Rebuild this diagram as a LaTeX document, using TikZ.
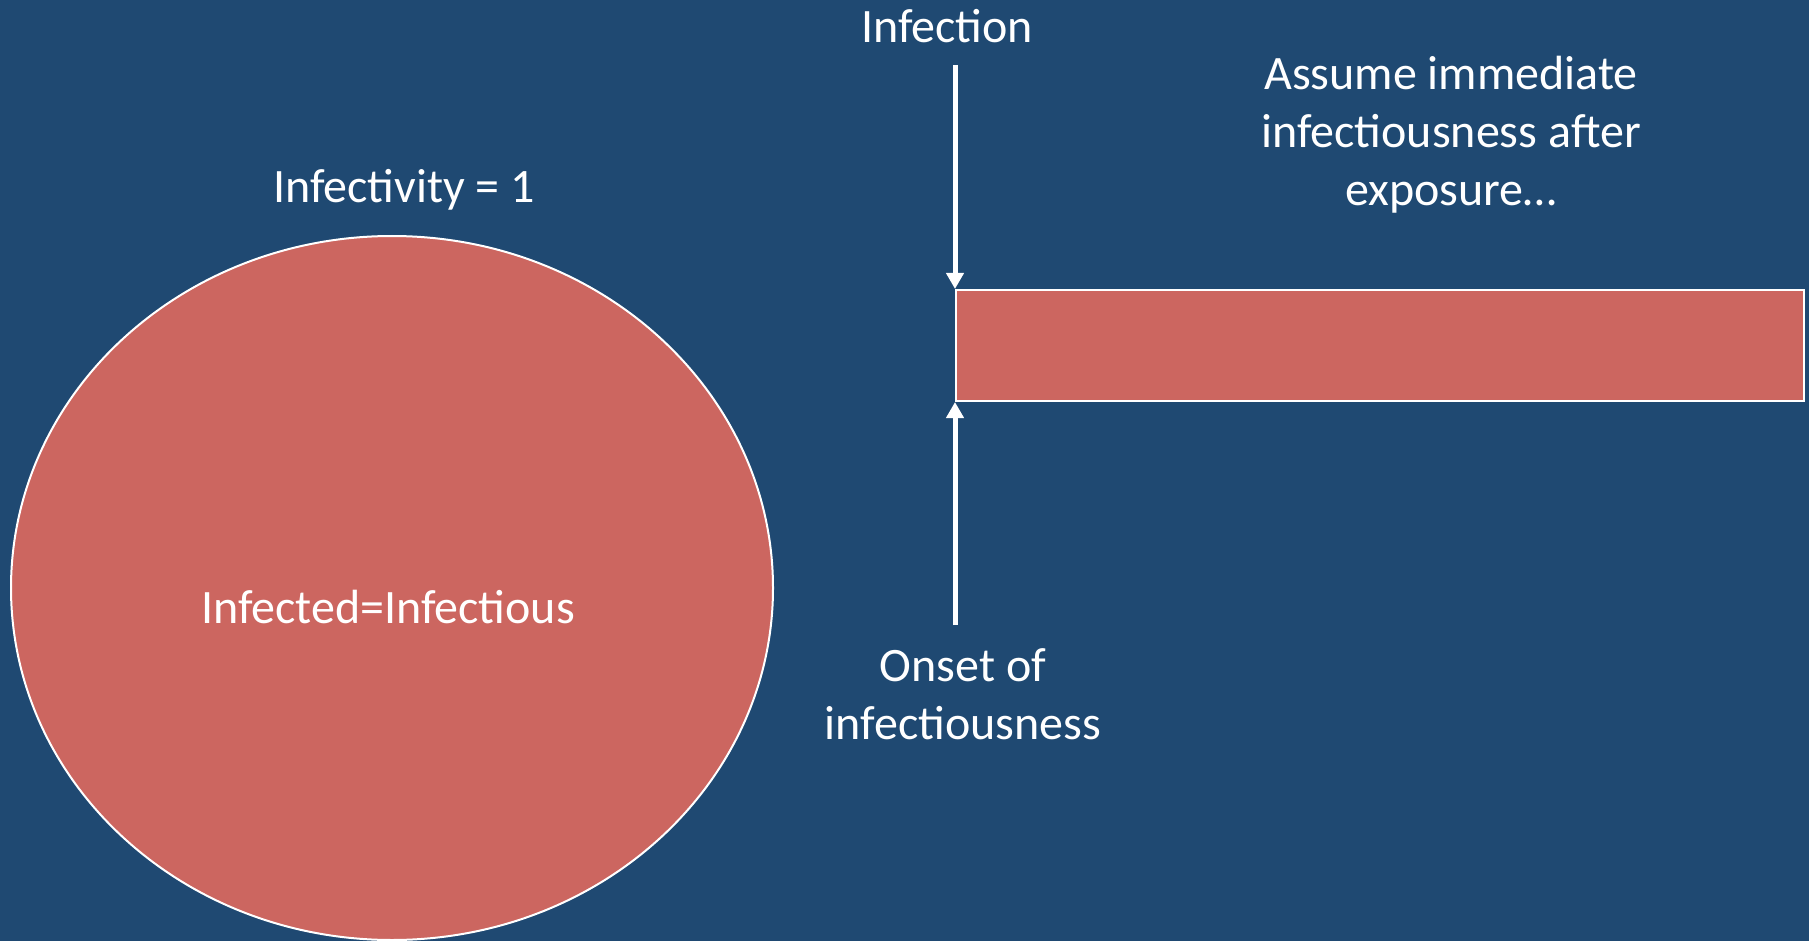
\documentclass[tikz,border=0pt]{standalone}
\usepackage{fontspec}
\setmainfont{Carlito}
\usetikzlibrary{arrows.meta}
\definecolor{bg}{RGB}{31,73,114}
\definecolor{salmon}{RGB}{204,102,96}
\tikzset{
  lbl/.style={text=white, font=\fontsize{48}{58}\selectfont, align=center, inner sep=0pt},
  shapeline/.style={draw=white, line width=2pt, fill=salmon},
  arr/.style={draw=white, line width=5pt, -{Triangle[width=17pt,length=16pt]}}
}
\begin{document}
\begin{tikzpicture}[x=1pt,y=-1pt]
\fill[bg] (0,0) rectangle (1809,941);
\useasboundingbox (0,0) rectangle (1809,941);
\draw[shapeline] (392,588) ellipse [x radius=381, y radius=352];
\node[shapeline, rectangle, minimum width=848pt, minimum height=111pt, anchor=north west, inner sep=0pt] (bar) at (955,289) {};
\coordinate (topstart) at (955,65);
\coordinate (botstart) at (955,625);
\draw[arr] (topstart) -- (bar.north west);
\draw[arr] (botstart) -- (bar.south west);
\node[lbl, anchor=base] (infection) at (947,43) {Infection};
\node[lbl, anchor=base] (infectivity) at (404,203) {Infectivity = 1};
\node[lbl, anchor=base] (infected) at (388,623) {Infected=Infectious};
\node[lbl, anchor=base] (assume) at (1451,206) {Assume immediate\\infectiousness after\\exposure\dots};
\node[lbl, anchor=base] (onset) at (963,739) {Onset of\\infectiousness};
\end{tikzpicture}
\end{document}
